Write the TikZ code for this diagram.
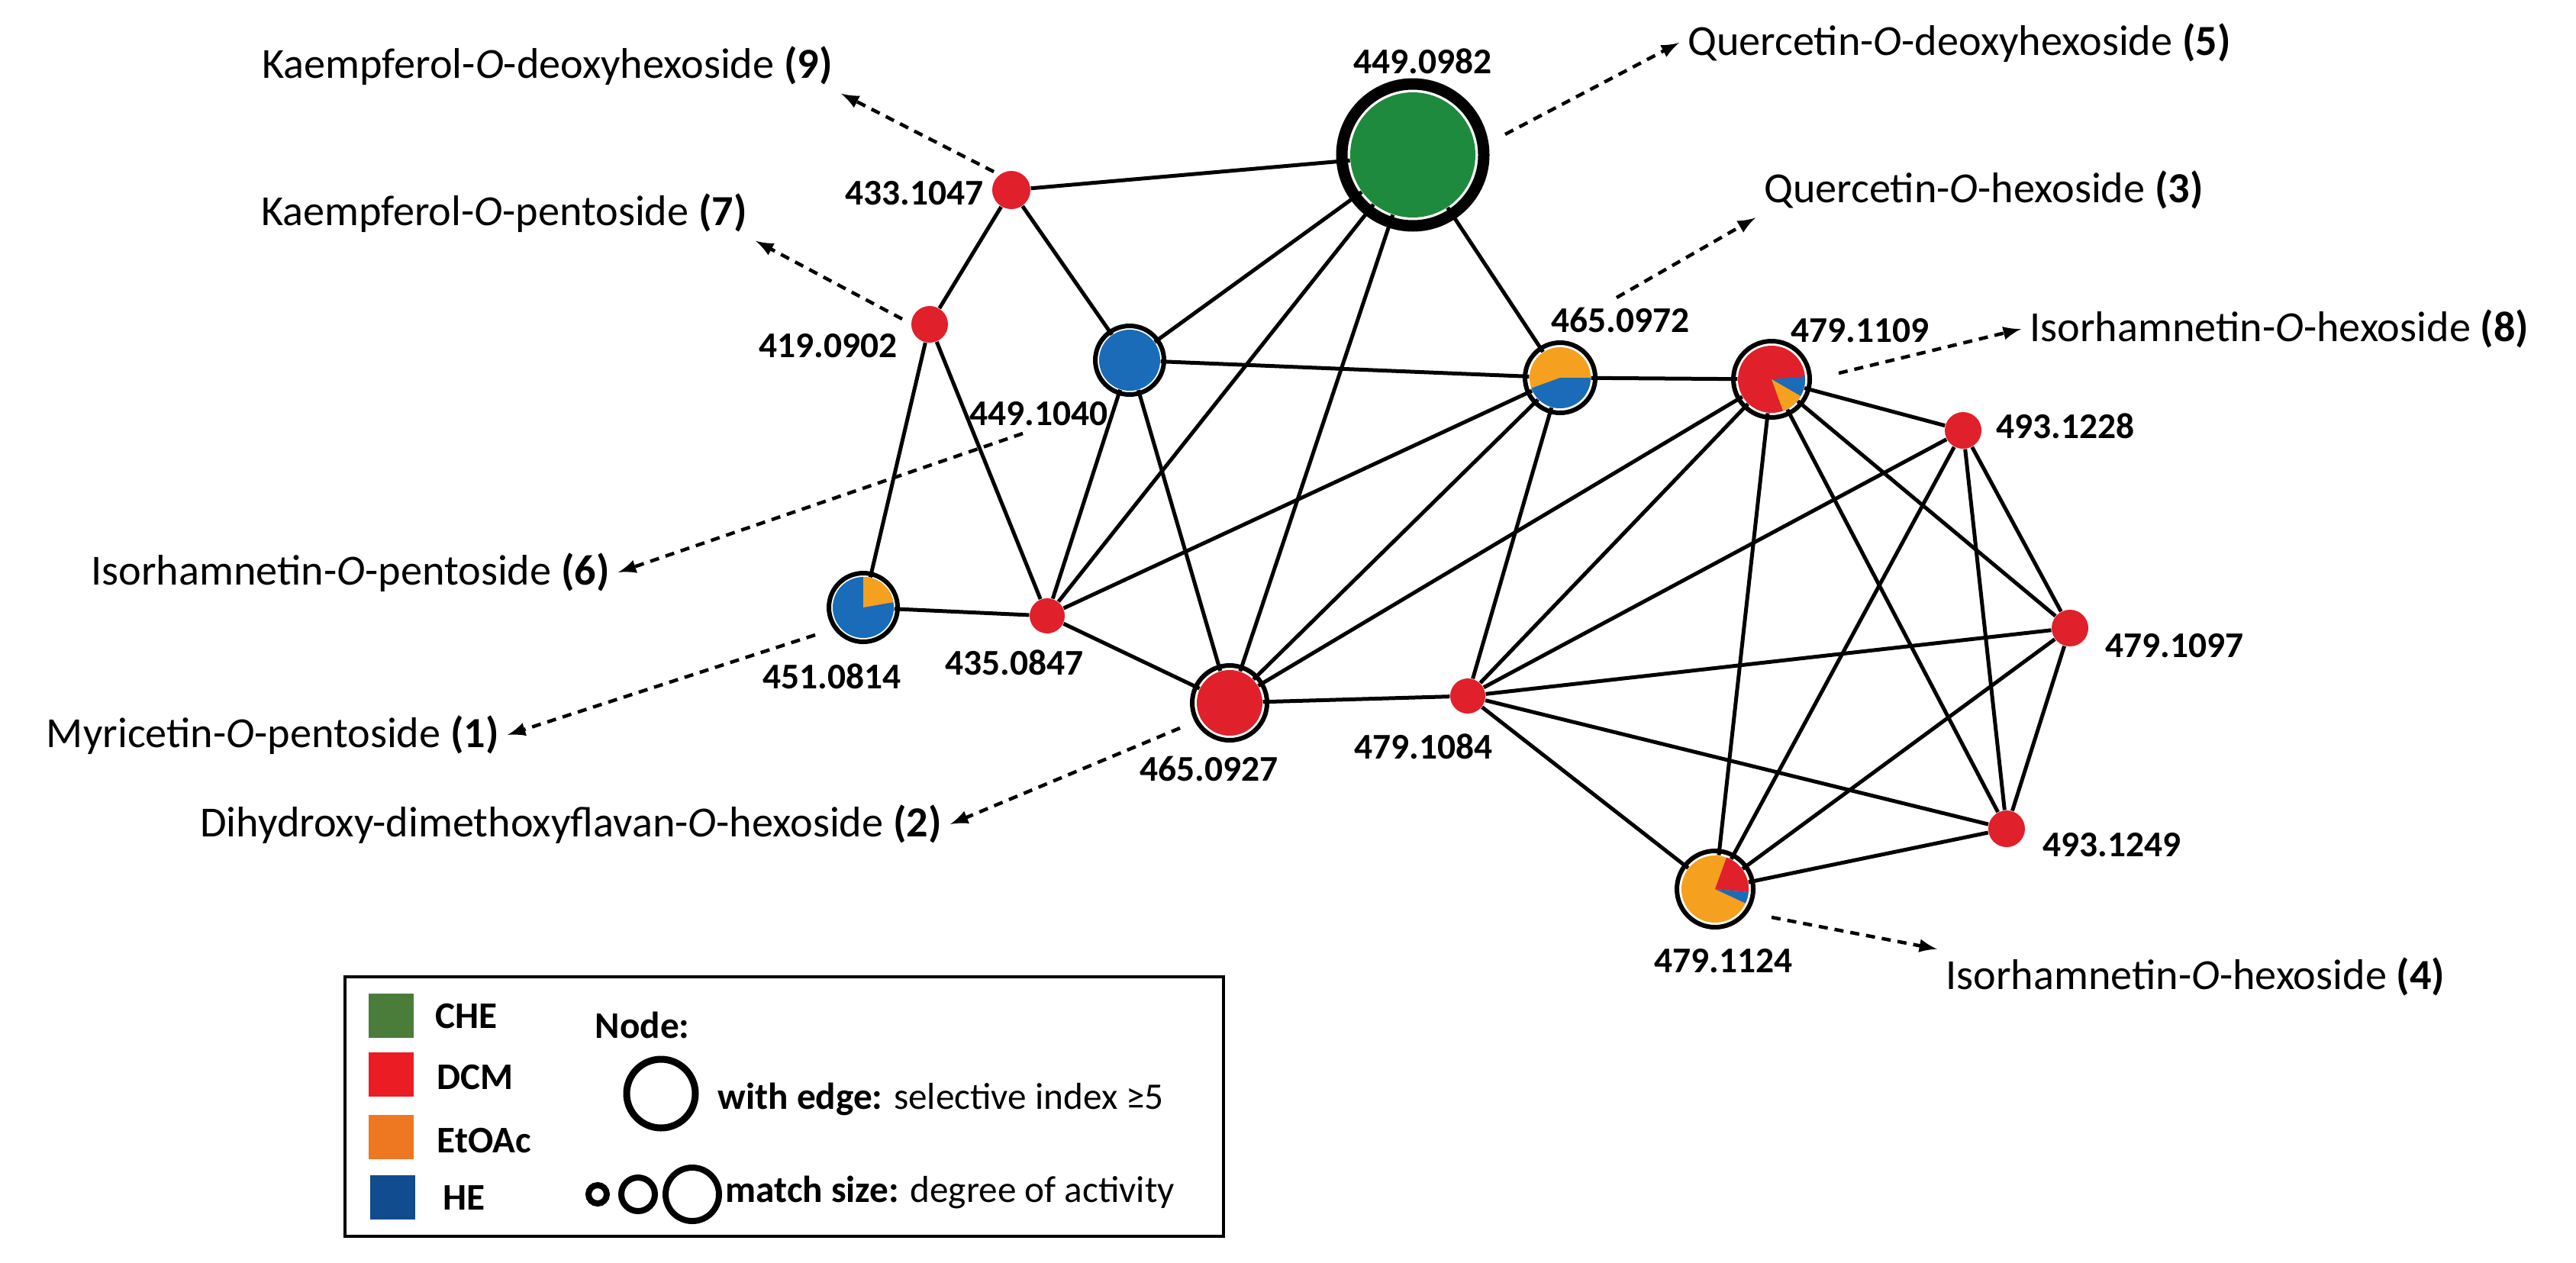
\documentclass[tikz,border=0pt]{standalone}
\usepackage{fontspec}
\setmainfont{Carlito}
\usepackage{tikz}
\usetikzlibrary{arrows,positioning,calc}

\definecolor{che}{HTML}{1E8A3E}
\definecolor{dcm}{HTML}{E0202A}
\definecolor{eto}{HTML}{F5A01E}
\definecolor{hex}{HTML}{1A6CB8}
\definecolor{lche}{HTML}{4A7D3A}
\definecolor{ldcm}{HTML}{EC1C24}
\definecolor{leto}{HTML}{EE7722}
\definecolor{lhex}{HTML}{114C8E}

\tikzset{
  mz/.style={font=\fontsize{13.5}{15}\selectfont\bfseries, inner sep=1pt},
  cmp/.style={font=\fontsize{16}{18}\selectfont, inner sep=3pt},
  dot/.style={circle, fill=dcm, inner sep=0pt, minimum size=#1},
  big/.style={circle, inner sep=0pt, minimum size=#1},
  ring/.style={line width=0.06cm},
  edge/.style={line width=0.05cm},
  note/.style={->, >=latex, dashed, line width=0.045cm, dash pattern=on 0.12cm off 0.09cm},
  lg/.style={font=\fontsize{14}{16}\selectfont\bfseries, anchor=west, inner sep=0pt}
}

\begin{document}
\begin{tikzpicture}

\useasboundingbox (0,0) rectangle (33.75,-16.54);

% nodes
\node[big=1.64cm, fill=che] (n4982) at (18.51,-2.03) {};
\node[dot=0.50cm] (n3347) at (13.25,-2.49) {};
\node[dot=0.48cm] (n1902) at (12.18,-4.25) {};
\node[big=0.80cm, fill=hex] (n4940) at (14.80,-4.72) {};
\node[big=0.80cm, fill=hex] (n5114) at (11.31,-7.96) {};
\node[dot=0.46cm] (n3547) at (13.72,-8.07) {};
\node[big=0.86cm, fill=dcm] (n6527) at (16.11,-9.21) {};
\node[big=0.80cm, fill=eto] (n6572) at (20.44,-4.95) {};
\node[big=0.88cm, fill=dcm] (n7909) at (23.21,-4.97) {};
\node[dot=0.48cm] (n9328) at (25.72,-5.64) {};
\node[dot=0.48cm] (n7997) at (27.12,-8.23) {};
\node[dot=0.46cm] (n7984) at (19.23,-9.12) {};
\node[dot=0.48cm] (n9349) at (26.29,-10.86) {};
\node[big=0.88cm, fill=eto] (n7924) at (22.47,-11.65) {};

% pie parts
\fill[eto] (n5114.center) -- ++(10:0.40) arc (10:90:0.40) -- cycle;
\fill[hex] (n6572.center) -- ++(0:0.40) arc (0:-160:0.40) -- cycle;
\fill[hex] (n7909.center) -- ++(5:0.44) arc (5:-30:0.44) -- cycle;
\fill[eto] (n7909.center) -- ++(-30:0.44) arc (-30:-70:0.44) -- cycle;
\fill[dcm] (n7924.center) -- ++(70:0.44) arc (70:-5:0.44) -- cycle;
\fill[hex] (n7924.center) -- ++(-5:0.44) arc (-5:-25:0.44) -- cycle;

% edges
\begin{scope}[on background layer/.style={}]
\foreach \a/\b in {n4982/n3347, n4982/n4940, n4982/n3547, n4982/n6527, n4982/n6572,
  n3347/n1902, n3347/n4940, n1902/n5114, n1902/n3547,
  n4940/n6572, n4940/n3547, n4940/n6527,
  n5114/n3547, n3547/n6572, n3547/n6527,
  n6527/n6572, n6527/n7909, n6527/n7984,
  n6572/n7909, n6572/n7984,
  n7909/n7984, n7909/n9328, n7909/n7997, n7909/n9349, n7909/n7924,
  n7984/n9328, n7984/n7997, n7984/n9349, n7984/n7924,
  n9328/n7924, n9328/n7997, n9328/n9349,
  n7997/n7924, n7997/n9349, n9349/n7924}
  \draw[edge] (\a) -- (\b);
\end{scope}

% rings
\draw[line width=0.15cm] (n4982) circle (0.93);
\draw[ring] (n4940) circle (0.45);
\draw[ring] (n5114) circle (0.45);
\draw[ring] (n6527) circle (0.49);
\draw[ring] (n6572) circle (0.46);
\draw[ring] (n7909) circle (0.50);
\draw[ring] (n7924) circle (0.50);

% m/z labels
\node[mz] (l4982) at (18.64,-0.80) {449.0982};
\node[mz] (l3347) at (11.98,-2.53) {433.1047};
\node[mz] (l1902) at (10.85,-4.53) {419.0902};
\node[mz] (l4940) at (13.61,-5.42) {449.1040};
\node[mz] (l5114) at (10.90,-8.86) {451.0814};
\node[mz] (l3547) at (13.29,-8.68) {435.0847};
\node[mz] (l6527) at (15.84,-10.07) {465.0927};
\node[mz] (l6572) at (21.23,-4.19) {465.0972};
\node[mz] (l7909) at (24.37,-4.33) {479.1109};
\node[mz] (l9328) at (27.06,-5.58) {493.1228};
\node[mz] (l7997) at (28.49,-8.46) {479.1097};
\node[mz] (l7984) at (18.65,-9.78) {479.1084};
\node[mz] (l9349) at (27.67,-11.07) {493.1249};
\node[mz] (l7924) at (22.58,-12.59) {479.1124};

% compound names
\node[cmp, anchor=east] (t9) at (11.02,-0.86) {Kaempferol-\textit{O}-deoxyhexoside \textbf{(9)}};
\node[cmp, anchor=east] (t7) at (9.90,-2.79) {Kaempferol-\textit{O}-pentoside \textbf{(7)}};
\node[cmp, anchor=east] (t6) at (8.10,-7.50) {Isorhamnetin-\textit{O}-pentoside \textbf{(6)}};
\node[cmp, anchor=east] (t1) at (6.65,-9.63) {Myricetin-\textit{O}-pentoside \textbf{(1)}};
\node[cmp, anchor=east] (t2) at (12.45,-10.80) {Dihydroxy-dimethoxyflavan-\textit{O}-hexoside \textbf{(2)}};
\node[cmp, anchor=west] (t5) at (22.00,-0.56) {Quercetin-\textit{O}-deoxyhexoside \textbf{(5)}};
\node[cmp, anchor=west] (t3) at (23.00,-2.49) {Quercetin-\textit{O}-hexoside \textbf{(3)}};
\node[cmp, anchor=west] (t8) at (26.48,-4.31) {Isorhamnetin-\textit{O}-hexoside \textbf{(8)}};
\node[cmp, anchor=west] (t4) at (25.38,-12.80) {Isorhamnetin-\textit{O}-hexoside \textbf{(4)}};

\coordinate (c9) at (13.02,-2.25);
\coordinate (c7) at (11.82,-4.18);
\coordinate (c6) at (13.40,-5.68);
\coordinate (c1) at (10.68,-8.32);
\coordinate (c2) at (15.46,-9.54);
\coordinate (c5) at (19.72,-1.76);
\coordinate (c3) at (21.18,-3.90);
\coordinate (c8) at (24.09,-4.89);
\coordinate (c4) at (23.21,-12.02);

\draw[note] (c9) -- (t9.south east);
\draw[note] (c7) -- (t7.south east);
\draw[note] (c6) -- (t6.east);
\draw[note] (c1) -- (t1.east);
\draw[note] (c2) -- (t2.east);
\draw[note] (c5) -- (t5.west);
\draw[note] (c3) -- (t3.south west);
\draw[note] (c8) -- (t8.west);
\draw[note] (c4) -- (t4.north west);

% legend
\draw[line width=0.04cm] (4.52,-12.80) rectangle (16.03,-16.20);
\node[fill=lche, minimum width=0.59cm, minimum height=0.58cm, inner sep=0pt] (sq1) at (5.12,-13.31) {};
\node[fill=ldcm, minimum width=0.59cm, minimum height=0.58cm, inner sep=0pt] (sq2) at (5.12,-14.08) {};
\node[fill=leto, minimum width=0.59cm, minimum height=0.58cm, inner sep=0pt] (sq3) at (5.12,-14.90) {};
\node[fill=lhex, minimum width=0.59cm, minimum height=0.58cm, inner sep=0pt] (sq4) at (5.14,-15.69) {};
\node[lg] (k1) at (5.70,-13.32) {CHE};
\node[lg] (k2) at (5.72,-14.12) {DCM};
\node[lg] (k3) at (5.72,-14.95) {EtOAc};
\node[lg] (k4) at (5.80,-15.70) {HE};
\node[lg] (kn) at (7.79,-13.43) {Node:};
\node[circle, draw, line width=0.09cm, minimum size=0.90cm, inner sep=0pt] (o1) at (8.66,-14.33) {};
\node[lg, font=\fontsize{14}{16}\selectfont] (ko1) at (9.40,-14.40) {\textbf{with edge:} selective index ≥5};
\node[circle, draw, line width=0.08cm, minimum size=0.24cm, inner sep=0pt] (s1) at (7.83,-15.65) {};
\node[circle, draw, line width=0.08cm, minimum size=0.44cm, inner sep=0pt] (s2) at (8.36,-15.65) {};
\node[circle, draw, line width=0.08cm, minimum size=0.70cm, inner sep=0pt] (s3) at (9.07,-15.65) {};
\node[lg, font=\fontsize{14}{16}\selectfont] (ko2) at (9.50,-15.62) {\textbf{match size:} degree of activity};

\end{tikzpicture}
\end{document}
